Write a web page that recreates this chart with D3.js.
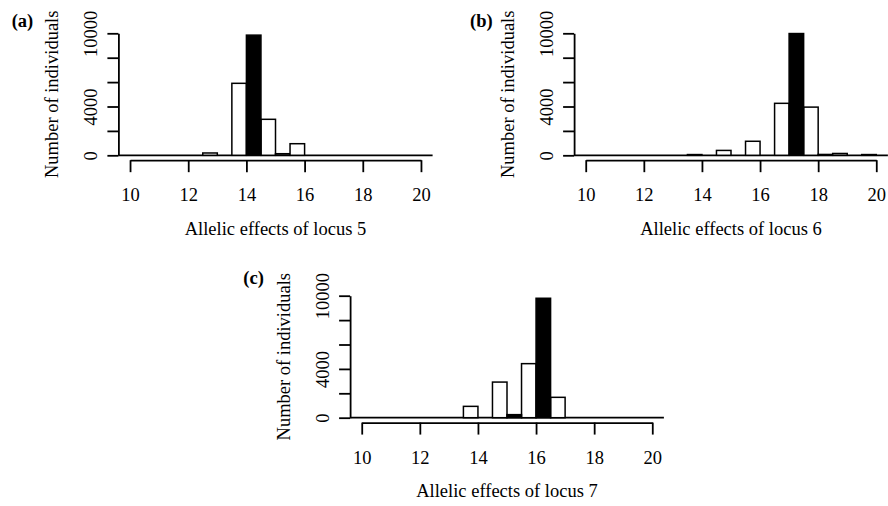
<!DOCTYPE html>
<html>
<head>
<meta charset="utf-8">
<script src="https://cdn.jsdelivr.net/npm/d3@7"></script>
<style>
  body { margin: 0; background: #fff; }
</style>
</head>
<body>
<div id="chart"></div>
<script>
// bin left edges (bin width 0.5) and counts, open (white) and filled (black) bars
const aOpenX   = [12.5, 13.5, 14.5, 15, 15.5];
const aOpenN   = [190, 5900, 2950, 130, 950];
const aFilledX = [14];
const aFilledN = [9850];

const bOpenX   = [13.5, 14.5, 15.5, 16.5, 17.5, 18, 18.5, 19.5];
const bOpenN   = [60, 400, 1150, 4260, 3950, 70, 150, 60];
const bFilledX = [17];
const bFilledN = [9980];

const cOpenX   = [13.5, 14.5, 15.5, 16.5];
const cOpenN   = [930, 2920, 4430, 1670];
const cFilledX = [15, 16];
const cFilledN = [250, 9790];

const xTicks = [10, 12, 14, 16, 18, 20];
const yTicks = [0, 2000, 4000, 6000, 8000, 10000];
const yTickLabels = [0, 4000, 10000];
const binWidth = 0.5;
const yTitle = "Number of individuals";

const panels = [
  { tag: "(a)", title: "Allelic effects of locus 5", openX: aOpenX, openN: aOpenN, fillX: aFilledX, fillN: aFilledN,
    left: 118.4, right: 432.6, y0: 155.3, yTop: 33.3, tagX: 11.7, tagY: 26.5 },
  { tag: "(b)", title: "Allelic effects of locus 6", openX: bOpenX, openN: bOpenN, fillX: bFilledX, fillN: bFilledN,
    left: 574.1, right: 887.9, y0: 155.3, yTop: 33.3, tagX: 470, tagY: 26.5 },
  { tag: "(c)", title: "Allelic effects of locus 7", openX: cOpenX, openN: cOpenN, fillX: cFilledX, fillN: cFilledN,
    left: 350.1, right: 663.9, y0: 417.7, yTop: 295.7, tagX: 243.3, tagY: 284 }
];

const fs = 18.5;
const font = '"Liberation Serif"';

const svg = d3.select("#chart")
  .append("svg")
    .attr("width", 888)
    .attr("height", 506);

panels.forEach(p => {
  const x = d3.scaleLinear().domain([9.6, 20.4]).range([p.left, p.right]);
  const y = d3.scaleLinear().domain([0, 10000]).range([p.y0, p.yTop]);

  const g = svg.append("g");

  // zero line across the plot region
  g.append("line")
    .attr("x1", x(9.6)).attr("x2", x(20.4))
    .attr("y1", y(0)).attr("y2", y(0))
    .attr("stroke", "#000").attr("stroke-width", 1.8);

  const bars = p.openX.map((b, i) => ({ b, n: p.openN[i], fill: "#fff" }))
    .concat(p.fillX.map((b, i) => ({ b, n: p.fillN[i], fill: "#000" })));

  g.selectAll("rect.bar")
    .data(bars)
    .join("rect")
      .attr("class", "bar")
      .attr("x", d => x(d.b))
      .attr("y", d => y(d.n))
      .attr("width", d => x(d.b + binWidth) - x(d.b))
      .attr("height", d => y(0) - y(d.n))
      .attr("fill", d => d.fill)
      .attr("stroke", "#000")
      .attr("stroke-width", 1.5);

  // x axis, offset below like base R
  const xa = x.copy().domain([10, 20]).range([x(10), x(20)]);
  const gx = g.append("g")
    .attr("transform", `translate(0,${y(-400)})`)
    .call(d3.axisBottom(xa).tickValues(xTicks).tickSize(12).tickSizeOuter(0));
  gx.select(".domain").attr("stroke-width", 1.8);
  gx.selectAll(".tick line").attr("stroke-width", 1.8);
  gx.selectAll(".tick text")
    .attr("y", 41).attr("dy", 0);

  // y axis
  const gy = g.append("g")
    .attr("transform", `translate(${p.left},0)`)
    .call(d3.axisLeft(y).tickValues(yTicks).tickSize(11).tickSizeOuter(0)
      .tickFormat(d => yTickLabels.includes(d) ? d : ""));
  gy.select(".domain").attr("stroke-width", 1.8);
  gy.selectAll(".tick line").attr("stroke-width", 1.8);
  gy.selectAll(".tick text")
    .attr("x", 0).attr("y", 0).attr("dy", 0)
    .attr("transform", "translate(-21.6,0) rotate(-90)")
    .attr("text-anchor", "middle");

  // titles
  g.append("text")
    .attr("x", x(15))
    .attr("y", y(-400) + 74.5)
    .attr("text-anchor", "middle")
    .text(p.title);

  g.append("text")
    .attr("transform", `translate(${p.left - 60},${(y(0) + y(10000)) / 2}) rotate(-90)`)
    .attr("text-anchor", "middle")
    .text(yTitle);

  g.append("text")
    .attr("x", p.tagX)
    .attr("y", p.tagY)
    .style("font-weight", "bold")
    .text(p.tag);
});

svg.selectAll("text")
  .style("font-family", font)
  .style("font-size", fs + "px")
  .attr("fill", "#000");
</script>
</body>
</html>
